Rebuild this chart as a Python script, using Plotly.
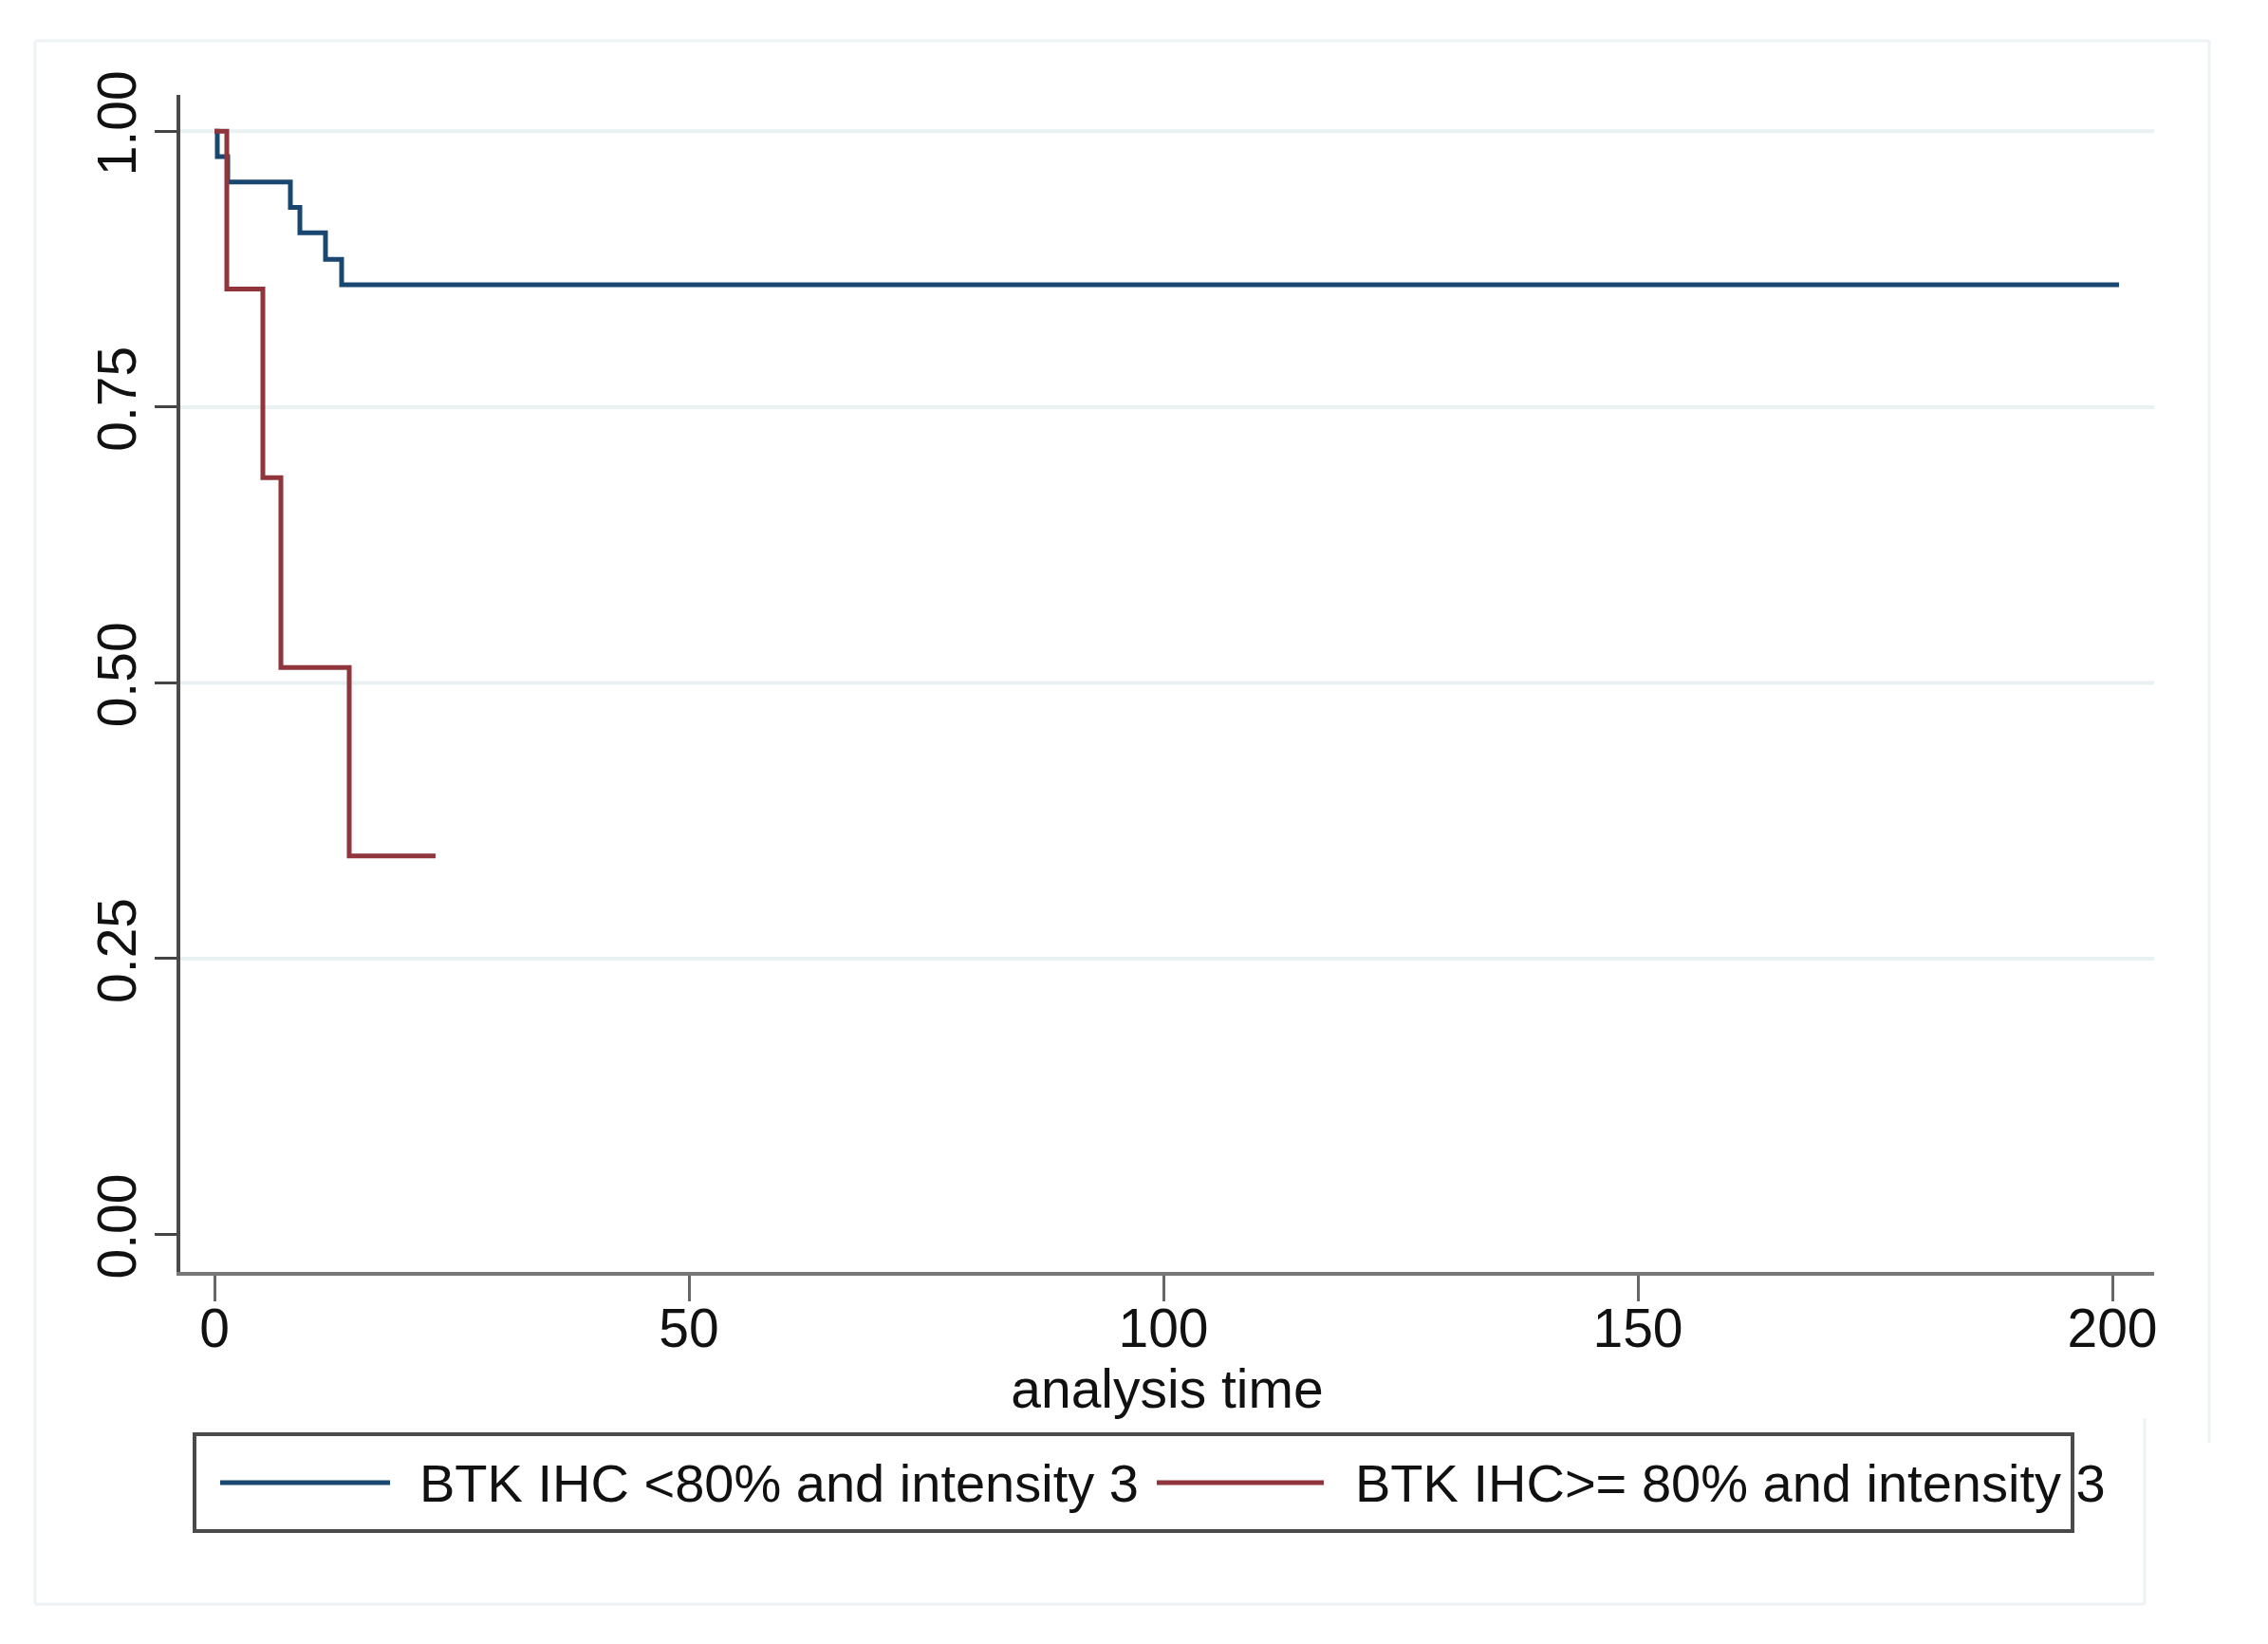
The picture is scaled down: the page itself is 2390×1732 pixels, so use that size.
import plotly.graph_objects as go

# ---- data ----
BLUE_NAME = "BTK IHC <80% and intensity 3"
RED_NAME = "BTK IHC>= 80% and intensity 3"
BLUE_T = [0, 0.3, 1.4, 8.0, 9.0, 11.7, 13.4, 200.7]
BLUE_S = [1.0, 0.977, 0.954, 0.931, 0.908, 0.884, 0.861, 0.861]
RED_T = [0, 1.3, 5.1, 7.0, 14.2, 23.3]
RED_S = [1.0, 0.857, 0.686, 0.514, 0.343, 0.343]
X_TICKS = [0, 50, 100, 150, 200]
Y_TICKS = [0, 0.25, 0.5, 0.75, 1.0]
Y_TICK_TEXT = ["0.00", "0.25", "0.50", "0.75", "1.00"]
GRID_Y = [0.25, 0.5, 0.75, 1.0]

BLUE = "#1a476f"
RED = "#90353b"
FONT = "Liberation Sans, Arial, Helvetica, sans-serif"

OFF = 8  # default page body margin
W, H = 2390 - 2 * OFF, 1732 - 2 * OFF
PLOT_L, PLOT_T, PW, PH = 190, 100, 2080, 1240  # page coordinates
L, T = PLOT_L - OFF, PLOT_T - OFF
R, B = W - L - PW, H - T - PH


def px(x):
    return (x - PLOT_L) / PW


def py(y):
    return (PLOT_T + PH - y) / PH


fig = go.Figure()
fig.add_trace(go.Scatter(x=BLUE_T, y=BLUE_S, mode="lines", line_shape="hv",
                         line=dict(color=BLUE, width=5), name=BLUE_NAME,
                         showlegend=False))
fig.add_trace(go.Scatter(x=RED_T, y=RED_S, mode="lines", line_shape="hv",
                         line=dict(color=RED, width=5), name=RED_NAME,
                         showlegend=False))

for g in GRID_Y:
    fig.add_hline(y=g, line=dict(color="#e9f1f3", width=4), layer="below")

shapes = []
# faint outer frame
fc = "#edf2f5"
for (x0, y0, x1, y1) in [(37, 43, 2328, 43), (2328, 43, 2328, 1520),
                         (37, 43, 37, 1690), (37, 1690, 2260, 1690),
                         (2260, 1494, 2260, 1690)]:
    shapes.append(dict(type="line", xref="paper", yref="paper",
                       x0=px(x0), y0=py(y0), x1=px(x1), y1=py(y1),
                       line=dict(color=fc, width=3)))
# legend box
shapes.append(dict(type="rect", xref="paper", yref="paper",
                   x0=px(205), y0=py(1511), x1=px(2184), y1=py(1613),
                   line=dict(color="#4a4a4a", width=4), fillcolor="rgba(0,0,0,0)"))
# legend samples
ly = py(1562)
shapes.append(dict(type="line", xref="paper", yref="paper",
                   x0=px(232), x1=px(411), y0=ly, y1=ly,
                   line=dict(color=BLUE, width=5)))
shapes.append(dict(type="line", xref="paper", yref="paper",
                   x0=px(1219), x1=px(1395), y0=ly, y1=ly,
                   line=dict(color=RED, width=5)))
for s in shapes:
    fig.add_shape(**s)

fig.add_annotation(xref="paper", yref="paper", x=px(440), y=ly, text=BLUE_NAME,
                   showarrow=False, xanchor="left", yanchor="middle",
                   font=dict(family=FONT, size=56, color="#111"))
fig.add_annotation(xref="paper", yref="paper", x=px(1426), y=ly, text=RED_NAME,
                   showarrow=False, xanchor="left", yanchor="middle",
                   font=dict(family=FONT, size=56, color="#111"))

fig.update_layout(
    width=W, height=H,
    margin=dict(l=L, r=R, t=T, b=B),
    paper_bgcolor="white", plot_bgcolor="white",
    font=dict(family=FONT, size=57, color="#111"),
    showlegend=False,
)
fig.update_xaxes(
    range=[-3.6, 204.4], tickmode="array", tickvals=X_TICKS,
    ticks="outside", ticklen=27, tickwidth=3, tickcolor="#666",
    showline=True, linecolor="#777", linewidth=4,
    showgrid=False, zeroline=False,
    tickfont=dict(size=57, family=FONT, color="#111"),
    ticklabelstandoff=-20,
    title=dict(text="analysis time", font=dict(size=57, family=FONT, color="#111"),
               standoff=8),
)
fig.update_yaxes(
    range=[-0.034, 1.033], tickmode="array", tickvals=Y_TICKS, ticktext=Y_TICK_TEXT,
    ticks="outside", ticklen=23, tickwidth=3, tickcolor="#444",
    showline=True, linecolor="#4a4a4a", linewidth=3.5,
    showgrid=False, zeroline=False, tickangle=-90,
    tickfont=dict(size=57, family=FONT, color="#111"),
    ticklabelstandoff=-3,
)

fig.write_html("out.html")
